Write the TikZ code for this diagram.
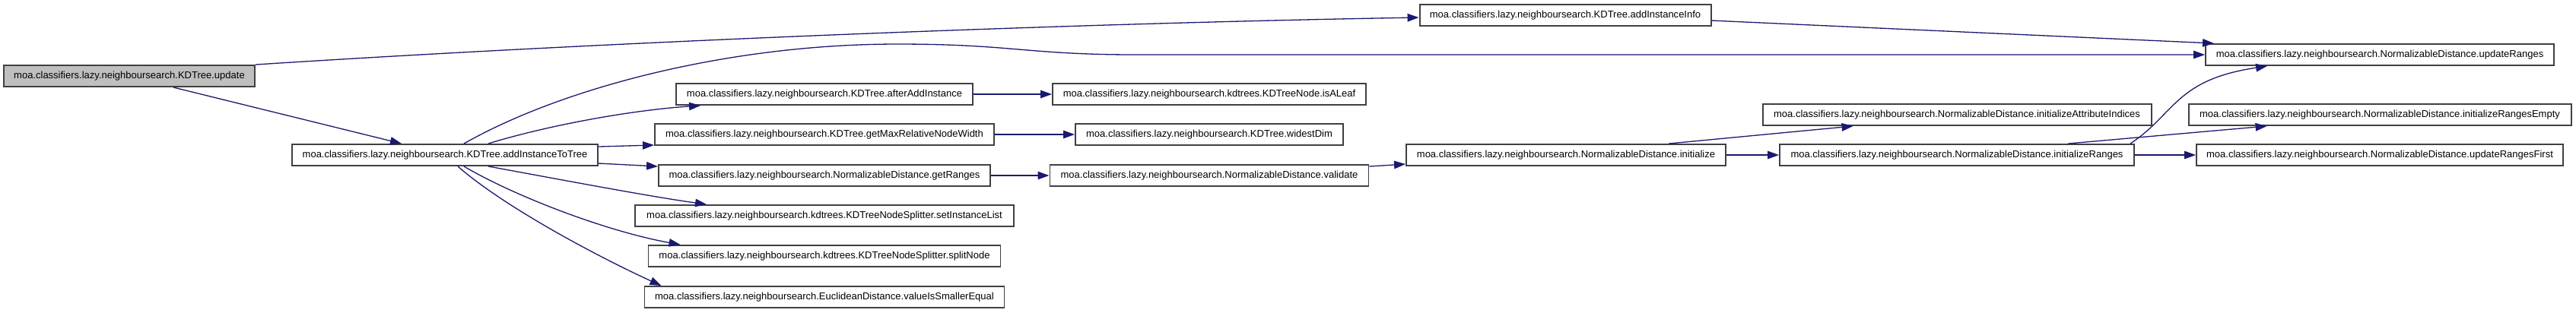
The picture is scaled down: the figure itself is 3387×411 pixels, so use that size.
\documentclass[tikz,border=0pt]{standalone}
\usepackage{fontspec}
\setmainfont{Liberation Sans}
\usepackage{xcolor}
\usepackage{tikz}
\usetikzlibrary{arrows.meta, calc}
\definecolor{edgeblue}{HTML}{191970}
\definecolor{boxline}{HTML}{404040}
\tikzset{
  %% Function box
  fnbox/.style={
    rectangle, draw=boxline, fill=#1,
    minimum height=2.8mm, inner sep=0pt,
    font=\fontsize{3.7}{4.4}\selectfont,
    line width=0.55pt
  },
  fnbox/.default=white,
  %% Call arrow
  call/.style={-{Triangle[length=1.5mm,width=1.05mm]},
               draw=edgeblue, line width=0.37pt},
}

\begin{document}
\begin{tikzpicture}[x=0.1mm, y=-0.1mm]
  \useasboundingbox (0,0) rectangle (3387,411);

  %% Caller and first level
  \node[fnbox=black!25, minimum width=33mm] (kdupdate) at (170,100)
       {moa.classifiers.lazy.neighboursearch.KDTree.update};
  \node[fnbox, minimum width=40.2mm] (addtree) at (585,204)
       {moa.classifiers.lazy.neighboursearch.KDTree.addInstanceToTree};
  \node[fnbox, minimum width=38.3mm] (addinfo) at (2058,20)
       {moa.classifiers.lazy.neighboursearch.KDTree.addInstanceInfo};

  %% Second column
  \node[fnbox, minimum width=39mm]   (afteradd) at (1084,124)
       {moa.classifiers.lazy.neighboursearch.KDTree.afterAddInstance};
  \node[fnbox, minimum width=44.6mm] (maxwidth) at (1084,177)
       {moa.classifiers.lazy.neighboursearch.KDTree.getMaxRelativeNodeWidth};
  \node[fnbox, minimum width=43.6mm] (getranges) at (1084,231)
       {moa.classifiers.lazy.neighboursearch.NormalizableDistance.getRanges};
  \node[fnbox, minimum width=49.8mm] (setlist) at (1084,284)
       {moa.classifiers.lazy.neighboursearch.kdtrees.KDTreeNodeSplitter.setInstanceList};
  \node[fnbox, minimum width=46.3mm] (splitnode) at (1084,337)
       {moa.classifiers.lazy.neighboursearch.kdtrees.KDTreeNodeSplitter.splitNode};
  \node[fnbox, minimum width=47.3mm] (smaller) at (1084,391)
       {moa.classifiers.lazy.neighboursearch.EuclideanDistance.valueIsSmallerEqual};

  %% Third column
  \node[fnbox, minimum width=41.2mm] (isleaf) at (1590,124)
       {moa.classifiers.lazy.neighboursearch.kdtrees.KDTreeNode.isALeaf};
  \node[fnbox, minimum width=35.2mm] (widest) at (1590,177)
       {moa.classifiers.lazy.neighboursearch.KDTree.widestDim};
  \node[fnbox, minimum width=41.9mm] (validate) at (1590,231)
       {moa.classifiers.lazy.neighboursearch.NormalizableDistance.validate};
  \node[fnbox, minimum width=42mm]   (initialize) at (2059,204)
       {moa.classifiers.lazy.neighboursearch.NormalizableDistance.initialize};

  %% Range functions
  \node[fnbox, minimum width=51.1mm] (attrind) at (2573,151)
       {moa.classifiers.lazy.neighboursearch.NormalizableDistance.initializeAttributeIndices};
  \node[fnbox, minimum width=46.6mm] (initranges) at (2573,204)
       {moa.classifiers.lazy.neighboursearch.NormalizableDistance.initializeRanges};
  \node[fnbox, minimum width=45.8mm] (updranges) at (3129,72)
       {moa.classifiers.lazy.neighboursearch.NormalizableDistance.updateRanges};
  \node[fnbox, minimum width=50.3mm] (rngempty) at (3129,151)
       {moa.classifiers.lazy.neighboursearch.NormalizableDistance.initializeRangesEmpty};
  \node[fnbox, minimum width=48.2mm] (rngfirst) at (3129,204)
       {moa.classifiers.lazy.neighboursearch.NormalizableDistance.updateRangesFirst};

  %% Calls from update
  \draw[call] (kdupdate.north east) .. controls (800,55) and (1400,31)
       .. ($(addinfo.west)+(0,3)$);
  \draw[call] ($(kdupdate.south)+(58,0)$) -- ($(addtree.north)+(-57,0)$);
  \draw[call] ($(addinfo.east)+(0,7)$) -- ($(updranges.north west)+(12,0)$);

  %% Calls from addInstanceToTree
  \draw[call] ($(addtree.north)+(25,0)$) .. controls (740,115) and (960,58)
       .. (1180,58) .. controls (1330,58) and (1350,72) .. (1494,72)
       -- (updranges.west);
  \draw[call] ($(addtree.north)+(57,0)$) .. controls (720,165) and (830,145)
       .. ($(afteradd.south west)+(33,0)$);
  \draw[call] ($(addtree.east)+(0,-11)$) -- ($(maxwidth.south west)+(0,-1)$);
  \draw[call] ($(addtree.east)+(0,11)$) -- ($(getranges.north west)+(0,3)$);
  \draw[call] ($(addtree.south)+(57,0)$) .. controls (730,235) and (850,258)
       .. ($(setlist.north west)+(95,0)$);
  \draw[call] ($(addtree.south)+(25,0)$) .. controls (680,260) and (800,305)
       .. ($(splitnode.north west)+(43,0)$);
  \draw[call] ($(addtree.south)+(17,0)$) .. controls (660,270) and (780,335)
       .. ($(smaller.north west)+(23,0)$);

  %% Straight chains
  \draw[call] (afteradd.east) -- (isleaf.west);
  \draw[call] (maxwidth.east) -- (widest.west);
  \draw[call] (getranges.east) -- (validate.west);
  \draw[call] ($(validate.east)+(0,-12)$) -- ($(initialize.west)+(0,12)$);
  \draw[call] ($(initialize.north)+(135,0)$) -- ($(attrind.south west)+(120,0)$);
  \draw[call] (initialize.east) -- (initranges.west);

  %% Calls from initializeRanges
  \draw[call] ($(initranges.north east)+(-6,0)$) .. controls (2860,150) and (2860,105)
       .. ($(updranges.south west)+(82,0)$);
  \draw[call] ($(initranges.north)+(146,0)$) -- ($(rngempty.south west)+(104,0)$);
  \draw[call] (initranges.east) -- (rngfirst.west);

\end{tikzpicture}
\end{document}
